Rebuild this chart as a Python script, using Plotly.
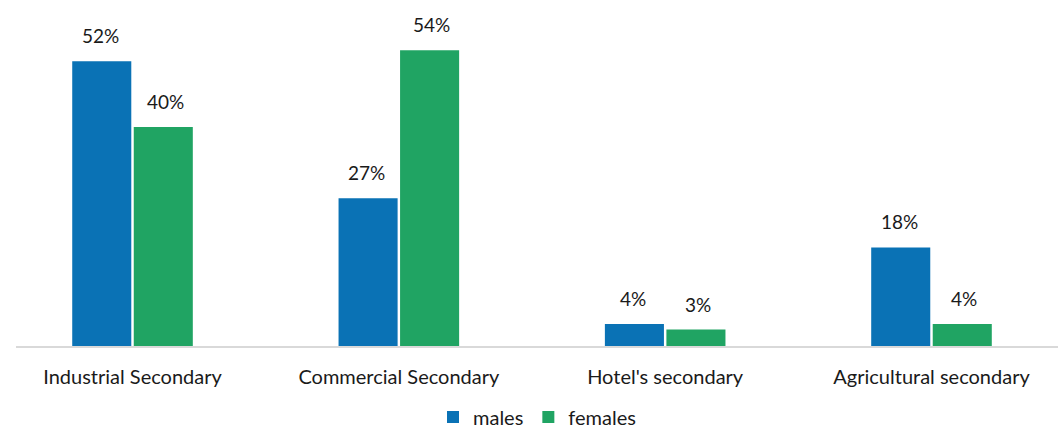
import plotly.graph_objects as go

categories = ["Industrial Secondary", "Commercial Secondary", "Hotel's secondary", "Agricultural secondary"]
males = [52, 27, 4, 18]
females = [40, 54, 3, 4]

BLUE = "#0a72b5"
GREEN = "#20a463"
FONT = "Lato, 'Open Sans', sans-serif"

fig = go.Figure()
fig.add_bar(name="males", x=categories, y=males, marker_color=BLUE, marker_line_width=0)
fig.add_bar(name="females", x=categories, y=females, marker_color=GREEN, marker_line_width=0)

annotations = []
for i, c in enumerate(categories):
    for v, sh in ((males[i], -32.5), (females[i], 32.5)):
        annotations.append(dict(x=c, y=v, text=f"{v}%", showarrow=False, xshift=sh,
                                yanchor="bottom", yshift=12,
                                font=dict(size=19, color="#1a1a1a", family=FONT)))

fig.update_layout(
    width=1058, height=431,
    margin=dict(l=16, r=0, t=0, b=85, autoexpand=False),
    barmode="group", bargap=0.538, bargroupgap=0.04,
    plot_bgcolor="white", paper_bgcolor="white",
    font=dict(family=FONT, size=20, color="#1a1a1a"),
    annotations=annotations,
    legend=dict(orientation="h", x=0.5, xanchor="center", yref="paper", y=-0.205, yanchor="middle",
                font=dict(size=20), itemwidth=30, tracegroupgap=0),
    xaxis=dict(range=[-0.4375, 3.475], showline=True, linecolor="#d9d9d9", linewidth=2,
               ticks="", tickfont=dict(size=20), ticklabelstandoff=12),
    yaxis=dict(range=[0, 63.2], visible=False, showgrid=False),
)
fig.write_html("out.html")
